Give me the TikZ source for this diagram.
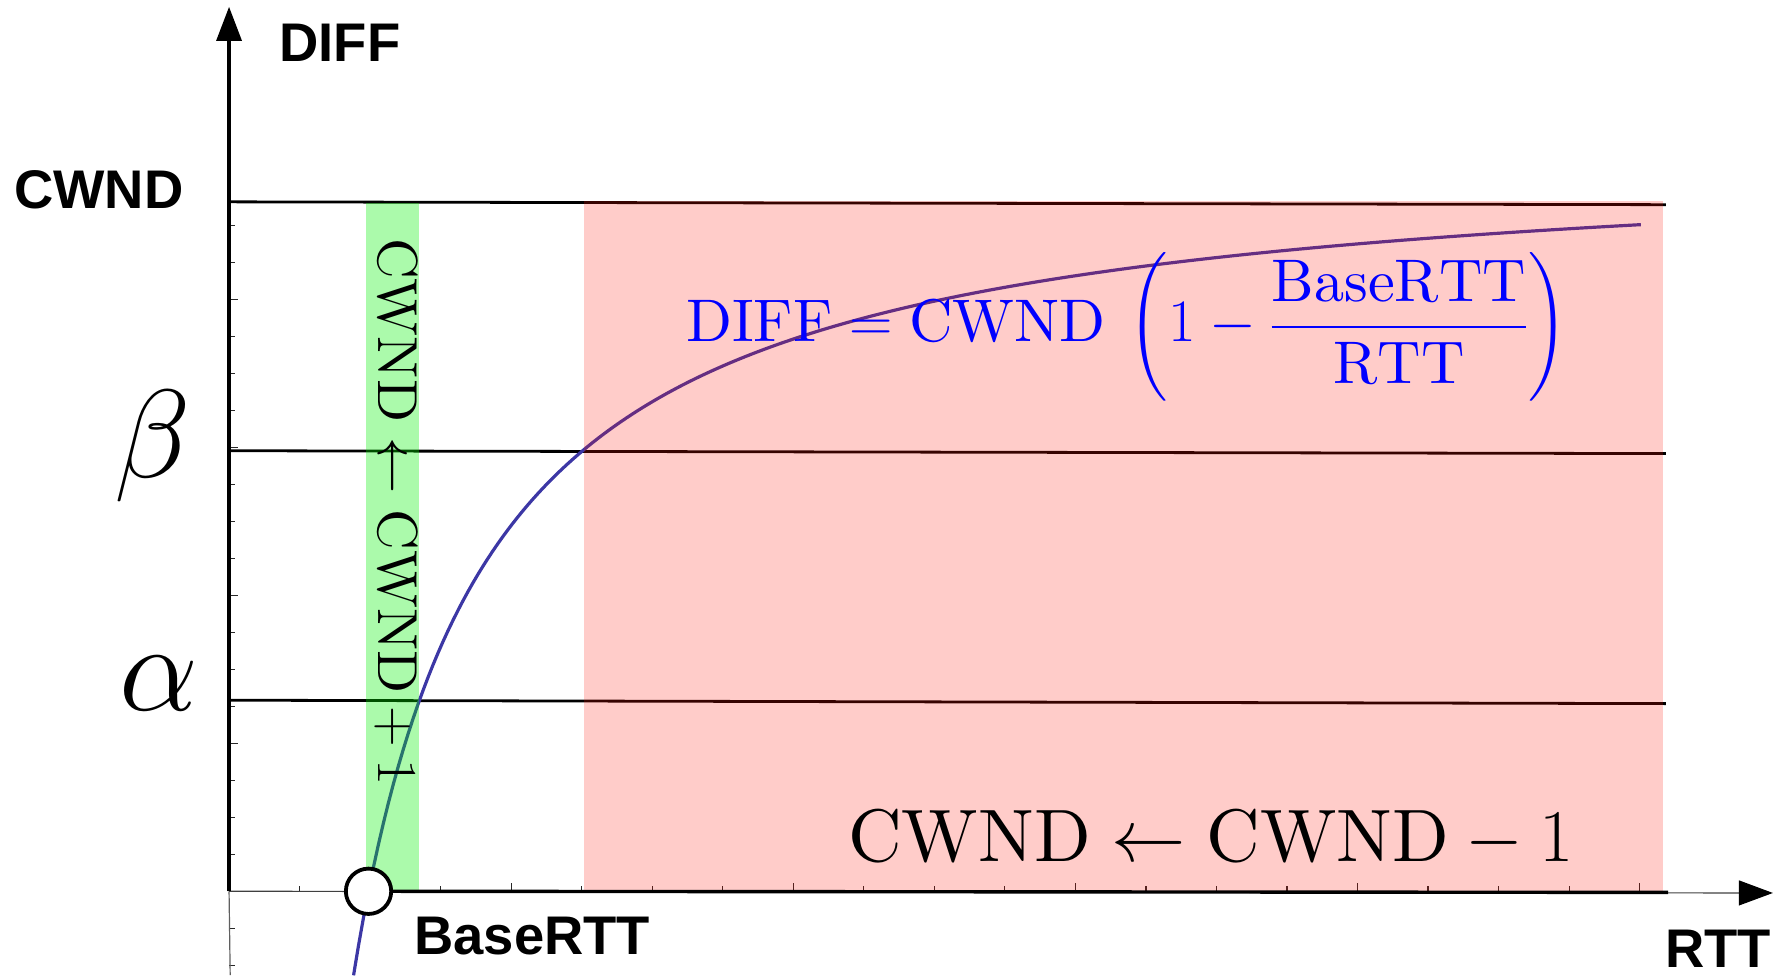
\RequirePackage{fix-cm}
\documentclass[tikz,border=0pt]{standalone}
\usepackage{exscale}
\usepackage{fontspec}
\setmainfont{lmroman10-regular}[Extension=.otf, BoldFont=lmroman10-bold,
  ItalicFont=lmroman10-italic]
\usetikzlibrary{arrows.meta}
\newfontfamily\labelfont{Liberation Sans}

\definecolor{curveblue}{RGB}{60,55,165}
\definecolor{slowred}{RGB}{255,15,0}
\definecolor{fastgreen}{RGB}{0,240,0}
\definecolor{eqblue}{RGB}{0,0,255}
\definecolor{thinaxis}{RGB}{95,95,95}
\definecolor{tickgray}{RGB}{40,40,40}

\tikzset{
  axislabel/.style={inner sep=0pt, outer sep=0pt,
    font=\labelfont\bfseries\fontsize{27.3}{30}\selectfont},
  greeklab/.style={inner sep=0pt, outer sep=0pt, font=\fontsize{63}{70}\selectfont},
  rulelab/.style={inner sep=0pt, outer sep=0pt},
  levelline/.style={line width=1.4pt, black},
  thinax/.style={line width=0.6pt, thinaxis},
  thickax/.style={line width=1.7pt, black},
  tickmark/.style={line width=0.6pt, tickgray},
  axistip/.style={-{Triangle[length=6mm,width=4.4mm,color=black]}},
  response/.style={line width=1.6pt, curveblue},
  decrzone/.style={fill=slowred, fill opacity=0.21},
  incrzone/.style={fill=fastgreen, fill opacity=0.33},
}

\begin{document}
\begin{tikzpicture}[x=0.2mm, y=-0.2mm]
  \useasboundingbox (0,0) rectangle (1568,860);

  % axis reference points
  \coordinate (O) at (202,786);
  \coordinate (Ytip) at (202,6);
  \coordinate (Ybot) at (203,860);
  \coordinate (Xtip) at (1563.5,787.5);
  \coordinate (Xend) at (1471,787);

  % threshold levels
  \coordinate (cwndL) at (202,178);   \coordinate (cwndR) at (1469,180.5);
  \coordinate (betaL) at (202,397.5); \coordinate (betaR) at (1469,400);
  \coordinate (alphaL) at (202,617.5);\coordinate (alphaR) at (1469,620.5);

  % tick marks on both axes
  \foreach \k in {1,...,20}{
    \pgfmathsetmacro{\tx}{202+62.2*\k}
    \pgfmathsetmacro{\tl}{mod(\k,4)==0 ? 7.5 : 4.5}
    \draw[tickmark] (\tx,786) -- ++(0,-\tl);
  }
  \foreach \k in {-2,-1,1,2,...,18}{
    \pgfmathsetmacro{\ty}{786-32.6*\k}
    \pgfmathsetmacro{\tl}{mod(\k,4)==0 ? 8 : 5}
    \draw[tickmark] (202,\ty) -- ++(\tl,0);
  }

  % thin plot axes
  \draw[thinax] (O) -- (Ybot);
  \draw[thinax, black!75, axistip] (O) -- (Xtip);

  % horizontal levels: CWND, beta, alpha
  \draw[levelline] (cwndL) -- (cwndR);
  \draw[levelline] (betaL) -- (betaR);
  \draw[levelline] (alphaL) -- (alphaR);

  % DIFF as a function of RTT
  \draw[response] plot[domain=311.8:1447, samples=260]
    (\x, {786-656*(1-130/(\x-195))});

  % regions where the window grows / shrinks
  \fill[decrzone] (515.4,177) rectangle (1466.3,786.5);
  \fill[incrzone] (323,179) rectangle (369.5,787);

  % main axes
  \draw[thickax, axistip] (O) -- (Ytip);
  \node[circle, draw, fill=white, line width=1.9pt, minimum size=8mm,
        inner sep=0pt] (base) at (325,786) {};
  \draw[thickax] (base) -- (Xend);

  % labels
  \node[axislabel, anchor=base west] (difflab) at (246.5,54.5) {DIFF};
  \node[axislabel, anchor=base west] (cwndlab) at (12.6,184) {CWND};
  \node[axislabel, anchor=base west] (baselab) at (365.5,842) {BaseRTT};
  \node[axislabel, anchor=base east] (rttlab) at (1562,853) {RTT};
  \node[greeklab, anchor=base west] (betalab) at (101,421.5) {$\beta$};
  \node[greeklab, anchor=base west] (alphalab) at (105,627) {$\alpha$};

  \node[rulelab, rotate=-90, anchor=base west, font=\fontsize{28.3}{30}\selectfont]
    (incr) at (333.5,210) {$\mathrm{CWND}\leftarrow\mathrm{CWND}+1$};
  \node[rulelab, anchor=base west, font=\fontsize{37.3}{40}\selectfont]
    (decr) at (748,760) {$\mathrm{CWND}\leftarrow\mathrm{CWND}-1$};
  \node[rulelab, anchor=base west, text=eqblue, font=\fontsize{30.2}{34}\selectfont]
    (eq) at (605,301.5)
    {$\displaystyle \mathrm{DIFF}=\mathrm{CWND}\mkern4mu\left(1-\frac{\mathrm{BaseRTT}}{\mathrm{RTT}}\right)$};
\end{tikzpicture}
\end{document}
